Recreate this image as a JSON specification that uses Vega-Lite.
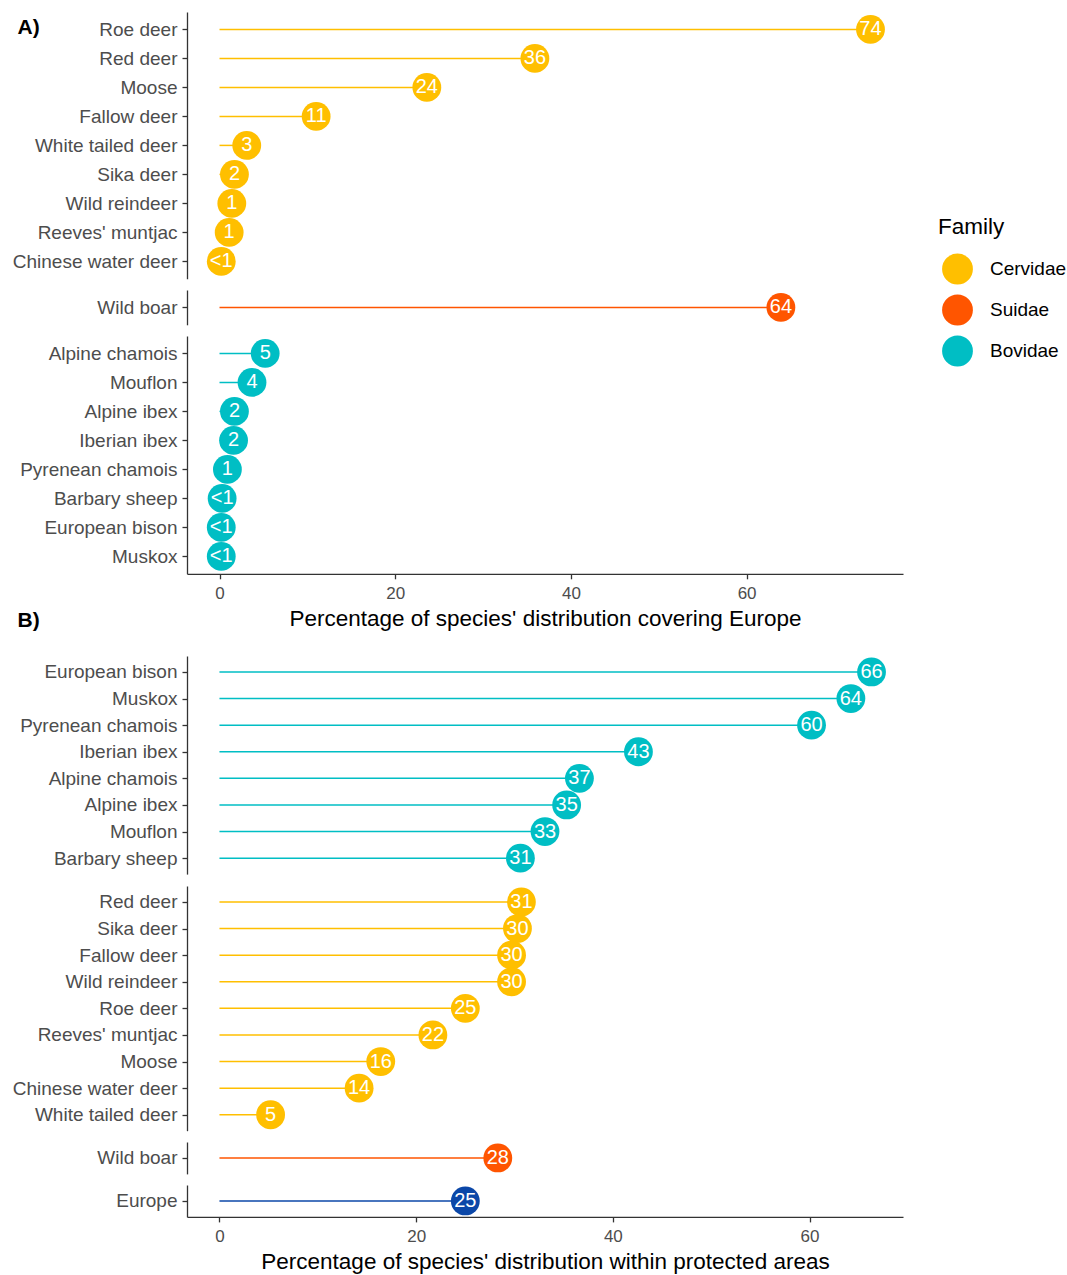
{
  "$schema": "https://vega.github.io/schema/vega-lite/v6.json",
  "background": "white",
  "padding": {"left": 12, "top": 12, "right": 0, "bottom": 0},
  "datasets": {
    "d": [
      {"panel": "A", "group": "Cervidae", "family": "Cervidae", "species": "Roe deer", "value": 74.1, "label": "74"},
      {"panel": "A", "group": "Cervidae", "family": "Cervidae", "species": "Red deer", "value": 35.9, "label": "36"},
      {"panel": "A", "group": "Cervidae", "family": "Cervidae", "species": "Moose", "value": 23.6, "label": "24"},
      {"panel": "A", "group": "Cervidae", "family": "Cervidae", "species": "Fallow deer", "value": 11.0, "label": "11"},
      {"panel": "A", "group": "Cervidae", "family": "Cervidae", "species": "White tailed deer", "value": 3.1, "label": "3"},
      {"panel": "A", "group": "Cervidae", "family": "Cervidae", "species": "Sika deer", "value": 1.7, "label": "2"},
      {"panel": "A", "group": "Cervidae", "family": "Cervidae", "species": "Wild reindeer", "value": 1.4, "label": "1"},
      {"panel": "A", "group": "Cervidae", "family": "Cervidae", "species": "Reeves' muntjac", "value": 1.1, "label": "1"},
      {"panel": "A", "group": "Cervidae", "family": "Cervidae", "species": "Chinese water deer", "value": 0.2, "label": "<1"},
      {"panel": "A", "group": "Suidae", "family": "Suidae", "species": "Wild boar", "value": 63.9, "label": "64"},
      {"panel": "A", "group": "Bovidae", "family": "Bovidae", "species": "Alpine chamois", "value": 5.2, "label": "5"},
      {"panel": "A", "group": "Bovidae", "family": "Bovidae", "species": "Mouflon", "value": 3.7, "label": "4"},
      {"panel": "A", "group": "Bovidae", "family": "Bovidae", "species": "Alpine ibex", "value": 1.7, "label": "2"},
      {"panel": "A", "group": "Bovidae", "family": "Bovidae", "species": "Iberian ibex", "value": 1.6, "label": "2"},
      {"panel": "A", "group": "Bovidae", "family": "Bovidae", "species": "Pyrenean chamois", "value": 0.9, "label": "1"},
      {"panel": "A", "group": "Bovidae", "family": "Bovidae", "species": "Barbary sheep", "value": 0.3, "label": "<1"},
      {"panel": "A", "group": "Bovidae", "family": "Bovidae", "species": "European bison", "value": 0.2, "label": "<1"},
      {"panel": "A", "group": "Bovidae", "family": "Bovidae", "species": "Muskox", "value": 0.2, "label": "<1"},
      {"panel": "B", "group": "Bovidae", "family": "Bovidae", "species": "European bison", "value": 66.3, "label": "66"},
      {"panel": "B", "group": "Bovidae", "family": "Bovidae", "species": "Muskox", "value": 64.2, "label": "64"},
      {"panel": "B", "group": "Bovidae", "family": "Bovidae", "species": "Pyrenean chamois", "value": 60.2, "label": "60"},
      {"panel": "B", "group": "Bovidae", "family": "Bovidae", "species": "Iberian ibex", "value": 42.6, "label": "43"},
      {"panel": "B", "group": "Bovidae", "family": "Bovidae", "species": "Alpine chamois", "value": 36.6, "label": "37"},
      {"panel": "B", "group": "Bovidae", "family": "Bovidae", "species": "Alpine ibex", "value": 35.3, "label": "35"},
      {"panel": "B", "group": "Bovidae", "family": "Bovidae", "species": "Mouflon", "value": 33.1, "label": "33"},
      {"panel": "B", "group": "Bovidae", "family": "Bovidae", "species": "Barbary sheep", "value": 30.6, "label": "31"},
      {"panel": "B", "group": "Cervidae", "family": "Cervidae", "species": "Red deer", "value": 30.7, "label": "31"},
      {"panel": "B", "group": "Cervidae", "family": "Cervidae", "species": "Sika deer", "value": 30.3, "label": "30"},
      {"panel": "B", "group": "Cervidae", "family": "Cervidae", "species": "Fallow deer", "value": 29.7, "label": "30"},
      {"panel": "B", "group": "Cervidae", "family": "Cervidae", "species": "Wild reindeer", "value": 29.7, "label": "30"},
      {"panel": "B", "group": "Cervidae", "family": "Cervidae", "species": "Roe deer", "value": 25.0, "label": "25"},
      {"panel": "B", "group": "Cervidae", "family": "Cervidae", "species": "Reeves' muntjac", "value": 21.7, "label": "22"},
      {"panel": "B", "group": "Cervidae", "family": "Cervidae", "species": "Moose", "value": 16.4, "label": "16"},
      {"panel": "B", "group": "Cervidae", "family": "Cervidae", "species": "Chinese water deer", "value": 14.2, "label": "14"},
      {"panel": "B", "group": "Cervidae", "family": "Cervidae", "species": "White tailed deer", "value": 5.2, "label": "5"},
      {"panel": "B", "group": "Suidae", "family": "Suidae", "species": "Wild boar", "value": 28.3, "label": "28"},
      {"panel": "B", "group": "Europe", "family": "Europe", "species": "Europe", "value": 25.0, "label": "25"}
    ]
  },
  "data": {"name": "d"},
  "config": {
    "view": {"stroke": null},
    "font": "Liberation Sans",
    "axis": {
      "grid": false,
      "domainColor": "#333333",
      "domainWidth": 1.3,
      "tickColor": "#333333",
      "tickWidth": 1.3,
      "tickSize": 5,
      "labelFont": "Liberation Sans",
      "labelColor": "#4D4D4D",
      "titleFont": "Liberation Sans",
      "titleColor": "#000000",
      "titleFontWeight": "normal"
    },
    "axisY": {"labelFontSize": 19, "labelPadding": 5},
    "axisX": {"labelFontSize": 17, "labelPadding": 7, "titleFontSize": 22.5, "titlePadding": 6},
    "legend": {
      "padding": 0,
      "titleFont": "Liberation Sans",
      "titleFontSize": 22.5,
      "titleFontWeight": "normal",
      "titleColor": "#000000",
      "titlePadding": 15,
      "labelFont": "Liberation Sans",
      "labelFontSize": 19,
      "labelColor": "#000000",
      "labelOffset": 17,
      "symbolSize": 950,
      "symbolType": "circle",
      "symbolOffset": 4,
      "symbolStrokeWidth": 0,
      "rowPadding": 10
    }
  },
  "spacing": 25,
  "vconcat": [
    {
      "spacing": 11,
      "vconcat": [
        {
          "width": 716, "height": 266.8,
          "transform": [{"filter": "datum.panel === 'A' && datum.group === 'Cervidae'"}],
          "encoding": {
            "y": {"field": "species", "type": "nominal", "sort": null, "scale": {"type": "point", "padding": 0.6},
                  "axis": {"title": "A)", "titleAngle": 0, "titleX": -170, "titleY": 15, "titleAlign": "left", "titleBaseline": "middle", "titleFontWeight": "bold", "titleFontSize": 21, "titleColor": "#000000"}},
            "x": {"field": "value", "type": "quantitative", "scale": {"domain": [-3.7, 77.8], "nice": false, "zero": false}, "axis": null}
          },
          "layer": [
            {"mark": {"type": "rule", "strokeWidth": 1.5}, "encoding": {"x": {"datum": 0, "type": "quantitative"}, "x2": {"field": "value"}, "stroke": {"field": "family", "type": "nominal", "scale": {"domain": ["Cervidae", "Suidae", "Bovidae", "Europe"], "range": ["#FFBF00", "#FF5500", "#00BEC4", "#0B47A8"]}}}},
            {"mark": {"type": "circle", "size": 830, "opacity": 1}, "encoding": {"color": {"field": "family", "type": "nominal", "scale": {"domain": ["Cervidae", "Suidae", "Bovidae", "Europe"], "range": ["#FFBF00", "#FF5500", "#00BEC4", "#0B47A8"]}, "legend": {"title": "Family", "values": ["Cervidae", "Suidae", "Bovidae"], "symbolType": "circle", "orient": "none", "legendX": 751, "legendY": 204}}}},
            {"mark": {"type": "text", "color": "white", "fontSize": 20, "font": "Liberation Sans"}, "encoding": {"text": {"field": "label"}}}
          ]
        },
        {
          "width": 716, "height": 34.8,
          "transform": [{"filter": "datum.panel === 'A' && datum.group === 'Suidae'"}],
          "encoding": {
            "y": {"field": "species", "type": "nominal", "sort": null, "scale": {"type": "point", "padding": 0.6}, "axis": {"title": null}},
            "x": {"field": "value", "type": "quantitative", "scale": {"domain": [-3.7, 77.8], "nice": false, "zero": false}, "axis": null}
          },
          "layer": [
            {"mark": {"type": "rule", "strokeWidth": 1.5}, "encoding": {"x": {"datum": 0, "type": "quantitative"}, "x2": {"field": "value"}, "stroke": {"field": "family", "type": "nominal"}}},
            {"mark": {"type": "circle", "size": 830, "opacity": 1}, "encoding": {"color": {"field": "family", "type": "nominal"}}},
            {"mark": {"type": "text", "color": "white", "fontSize": 20, "font": "Liberation Sans"}, "encoding": {"text": {"field": "label"}}}
          ]
        },
        {
          "width": 716, "height": 237.8,
          "transform": [{"filter": "datum.panel === 'A' && datum.group === 'Bovidae'"}],
          "encoding": {
            "y": {"field": "species", "type": "nominal", "sort": null, "scale": {"type": "point", "padding": 0.6},
                  "axis": {"title": "B)", "titleAngle": 0, "titleX": -170, "titleY": 284, "titleAlign": "left", "titleBaseline": "middle", "titleFontWeight": "bold", "titleFontSize": 21, "titleColor": "#000000"}},
            "x": {"field": "value", "type": "quantitative", "scale": {"domain": [-3.7, 77.8], "nice": false, "zero": false},
                  "axis": {"values": [0, 20, 40, 60], "title": "Percentage of species' distribution covering Europe"}}
          },
          "layer": [
            {"mark": {"type": "rule", "strokeWidth": 1.5}, "encoding": {"x": {"datum": 0, "type": "quantitative"}, "x2": {"field": "value"}, "stroke": {"field": "family", "type": "nominal"}}},
            {"mark": {"type": "circle", "size": 830, "opacity": 1}, "encoding": {"color": {"field": "family", "type": "nominal"}}},
            {"mark": {"type": "text", "color": "white", "fontSize": 20, "font": "Liberation Sans"}, "encoding": {"text": {"field": "label"}}}
          ]
        }
      ]
    },
    {
      "spacing": 11,
      "vconcat": [
        {
          "width": 716, "height": 218.1,
          "transform": [{"filter": "datum.panel === 'B' && datum.group === 'Bovidae'"}],
          "encoding": {
            "y": {"field": "species", "type": "nominal", "sort": null, "scale": {"type": "point", "padding": 0.6}, "axis": {"title": null}},
            "x": {"field": "value", "type": "quantitative", "scale": {"domain": [-3.3, 69.5], "nice": false, "zero": false}, "axis": null}
          },
          "layer": [
            {"mark": {"type": "rule", "strokeWidth": 1.5}, "encoding": {"x": {"datum": 0, "type": "quantitative"}, "x2": {"field": "value"}, "stroke": {"field": "family", "type": "nominal"}}},
            {"mark": {"type": "circle", "size": 830, "opacity": 1}, "encoding": {"color": {"field": "family", "type": "nominal"}}},
            {"mark": {"type": "text", "color": "white", "fontSize": 20, "font": "Liberation Sans"}, "encoding": {"text": {"field": "label"}}}
          ]
        },
        {
          "width": 716, "height": 244.7,
          "transform": [{"filter": "datum.panel === 'B' && datum.group === 'Cervidae'"}],
          "encoding": {
            "y": {"field": "species", "type": "nominal", "sort": null, "scale": {"type": "point", "padding": 0.6}, "axis": {"title": null}},
            "x": {"field": "value", "type": "quantitative", "scale": {"domain": [-3.3, 69.5], "nice": false, "zero": false}, "axis": null}
          },
          "layer": [
            {"mark": {"type": "rule", "strokeWidth": 1.5}, "encoding": {"x": {"datum": 0, "type": "quantitative"}, "x2": {"field": "value"}, "stroke": {"field": "family", "type": "nominal"}}},
            {"mark": {"type": "circle", "size": 830, "opacity": 1}, "encoding": {"color": {"field": "family", "type": "nominal"}}},
            {"mark": {"type": "text", "color": "white", "fontSize": 20, "font": "Liberation Sans"}, "encoding": {"text": {"field": "label"}}}
          ]
        },
        {
          "width": 716, "height": 31.9,
          "transform": [{"filter": "datum.panel === 'B' && datum.group === 'Suidae'"}],
          "encoding": {
            "y": {"field": "species", "type": "nominal", "sort": null, "scale": {"type": "point", "padding": 0.6}, "axis": {"title": null}},
            "x": {"field": "value", "type": "quantitative", "scale": {"domain": [-3.3, 69.5], "nice": false, "zero": false}, "axis": null}
          },
          "layer": [
            {"mark": {"type": "rule", "strokeWidth": 1.5}, "encoding": {"x": {"datum": 0, "type": "quantitative"}, "x2": {"field": "value"}, "stroke": {"field": "family", "type": "nominal"}}},
            {"mark": {"type": "circle", "size": 830, "opacity": 1}, "encoding": {"color": {"field": "family", "type": "nominal"}}},
            {"mark": {"type": "text", "color": "white", "fontSize": 20, "font": "Liberation Sans"}, "encoding": {"text": {"field": "label"}}}
          ]
        },
        {
          "width": 716, "height": 31.9,
          "transform": [{"filter": "datum.panel === 'B' && datum.group === 'Europe'"}],
          "encoding": {
            "y": {"field": "species", "type": "nominal", "sort": null, "scale": {"type": "point", "padding": 0.6}, "axis": {"title": null}},
            "x": {"field": "value", "type": "quantitative", "scale": {"domain": [-3.3, 69.5], "nice": false, "zero": false},
                  "axis": {"values": [0, 20, 40, 60], "title": "Percentage of species' distribution within protected areas"}}
          },
          "layer": [
            {"mark": {"type": "rule", "strokeWidth": 1.5}, "encoding": {"x": {"datum": 0, "type": "quantitative"}, "x2": {"field": "value"}, "stroke": {"field": "family", "type": "nominal"}}},
            {"mark": {"type": "circle", "size": 830, "opacity": 1}, "encoding": {"color": {"field": "family", "type": "nominal"}}},
            {"mark": {"type": "text", "color": "white", "fontSize": 20, "font": "Liberation Sans"}, "encoding": {"text": {"field": "label"}}}
          ]
        }
      ]
    }
  ],
  "resolve": {"scale": {"color": "shared", "stroke": "shared"}}
}
